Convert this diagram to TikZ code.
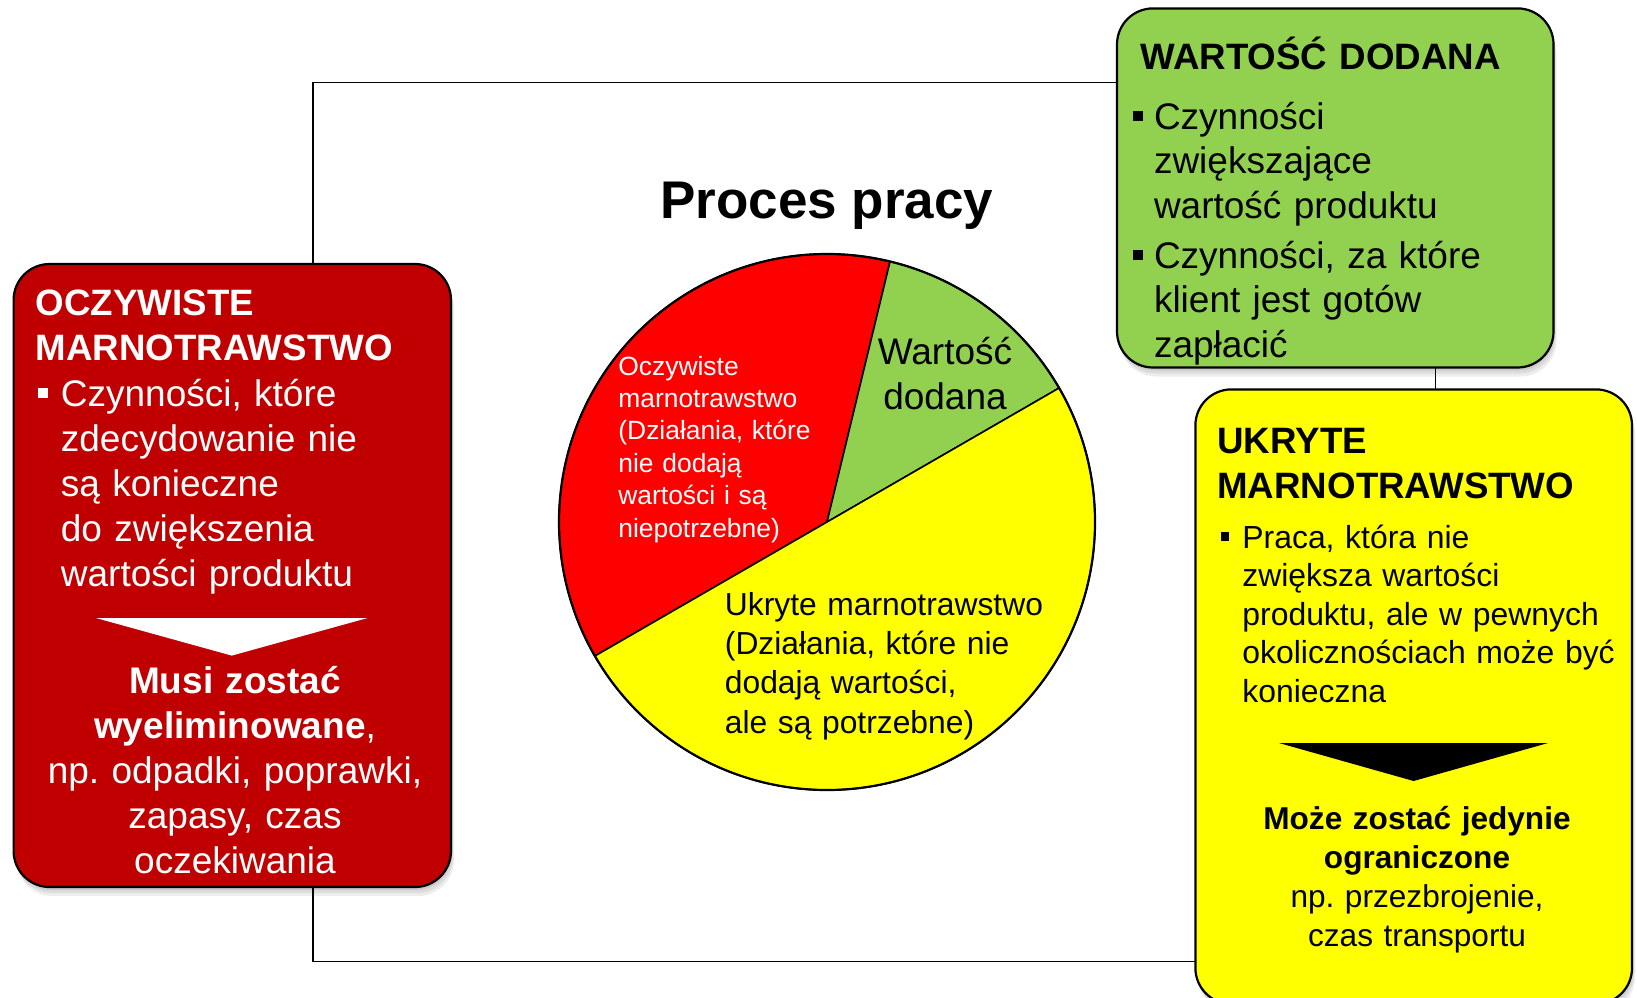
\documentclass[tikz,border=0pt]{standalone}
\usepackage{fontspec}
\setmainfont{Liberation Sans}
\frenchspacing
\definecolor{boxred}{HTML}{C00000}
\definecolor{piered}{HTML}{FF0000}
\definecolor{boxgreen}{HTML}{92D050}
\definecolor{boxyellow}{HTML}{FFFF00}
\newcommand{\sqbul}[1]{\leavevmode\llap{\rule[0.22em]{0.27em}{0.27em}\hspace{#1}}}
\tikzset{
  panel/.style={draw=black, line width=1.1pt, rounded corners=18pt},
  panelshadow/.style={fill=black, opacity=0.07, rounded corners=18pt},
  frameline/.style={draw=black, line width=0.8pt},
  piesector/.style={draw=black, line width=0.8pt, line join=round},
  ltext/.style={inner sep=0pt, anchor=base west, text width=210pt, align=left},
  ctext/.style={inner sep=0pt, anchor=base, text width=210pt, align=center},
  headfont/.style={font=\fontsize{18.35}{22.5}\selectfont\bfseries},
}
\begin{document}
\frenchspacing
\begin{tikzpicture}[x=0.5pt, y=-0.5pt]
\useasboundingbox (0,0) rectangle (1637,997);
\clip (0,0) rectangle (1637,997);
\fill[white] (0,0) rectangle (1637,997);

% frame of the process
\draw[frameline] (313,82.5) rectangle (1435.5,961.5);

% title
\node[inner sep=0pt, anchor=base, font=\fontsize{26.5}{32}\selectfont\bfseries] (title) at (827,218) {Proces pracy};

% pie
\coordinate (pc) at (827,522);
\filldraw[piesector, fill=piered] (pc) -- ++(-76.4:268) arc[start angle=-76.4, end angle=-210, radius=268] -- cycle;
\filldraw[piesector, fill=boxgreen] (pc) -- ++(-30:268) arc[start angle=-30, end angle=-76.4, radius=268] -- cycle;
\filldraw[piesector, fill=boxyellow] (pc) -- ++(-210:268) arc[start angle=-210, end angle=-390, radius=268] -- cycle;
\draw[line width=1.1pt] (pc) circle[radius=268];

\node[ltext, text=white, font=\fontsize{13.2}{16.2}\selectfont] (pieRed) at (618,375)
  {Oczywiste\\marnotrawstwo\\(Działania, które\\nie dodają\\wartości i są\\niepotrzebne)};
\node[ctext, font=\fontsize{18.5}{22.3}\selectfont] (pieGreen) at (945,364.5)
  {Wartość\\dodana};
\node[ltext, font=\fontsize{15.9}{19.7}\selectfont] (pieYellow) at (724.5,615)
  {Ukryte marnotrawstwo\\(Działania, które nie\\dodają wartości,\\ale są potrzebne)};

% shadows
\foreach \d/\e in {3/1,6/2,9/3}{
  \begin{scope}[shift={(\e,\d)}]
    \fill[panelshadow] (13.6,264) rectangle (451,887);
    \fill[panelshadow] (1117,8.4) rectangle (1553.5,367.5);
    \fill[panelshadow] (1195.4,389.4) rectangle (1632,1004);
  \end{scope}
}

% red panel
\draw[panel, fill=boxred] (13.6,264) rectangle (451,887);
\node[ltext, headfont, text=white] (redHead) at (35.5,315) {OCZYWISTE\\MARNOTRAWSTWO};
\node[ltext, text=white, font=\fontsize{18.5}{22.5}\selectfont] (redBody) at (60.5,406)
  {\sqbul{6.25pt}Czynności, które\\zdecydowanie nie\\są konieczne\\do zwiększenia\\wartości produktu};
\fill[white] (96,618) -- (367.5,618) -- (231.8,655.6) -- cycle;
\node[ctext, text=white, font=\fontsize{18.5}{22.5}\selectfont] (redFoot) at (235,693)
  {\textbf{Musi zostać}\\\textbf{wyeliminowane},\\np. odpadki, poprawki,\\zapasy, czas\\oczekiwania};

% green panel
\draw[panel, fill=boxgreen] (1117,8.4) rectangle (1553.5,367.5);
\node[ltext, headfont] (greenHead) at (1140,69) {WARTOŚĆ DODANA};
\node[ltext, font=\fontsize{18.5}{22.25}\selectfont] (greenBody) at (1153.6,129)
  {\sqbul{5.3pt}Czynności\\zwiększające\\wartość produktu\\[2.75pt]\sqbul{5.3pt}Czynności, za które\\klient jest gotów\\zapłacić};

% yellow panel
\draw[panel, fill=boxyellow] (1195.4,389.4) rectangle (1632,1004);
\node[ltext, headfont] (yellowHead) at (1217,453) {UKRYTE\\MARNOTRAWSTWO};
\node[ltext, font=\fontsize{15.95}{19.3}\selectfont] (yellowBody) at (1242,548)
  {\sqbul{6.5pt}Praca, która nie\\zwiększa wartości\\produktu, ale w pewnych\\okolicznościach może być\\konieczna};
\fill[black] (1279,743) -- (1548,743) -- (1413.6,781) -- cycle;
\node[ctext, font=\fontsize{15.8}{19.6}\selectfont] (yellowFoot) at (1417,829)
  {\textbf{Może zostać jedynie}\\\textbf{ograniczone}\\np. przezbrojenie,\\czas transportu};
\end{tikzpicture}
\end{document}
